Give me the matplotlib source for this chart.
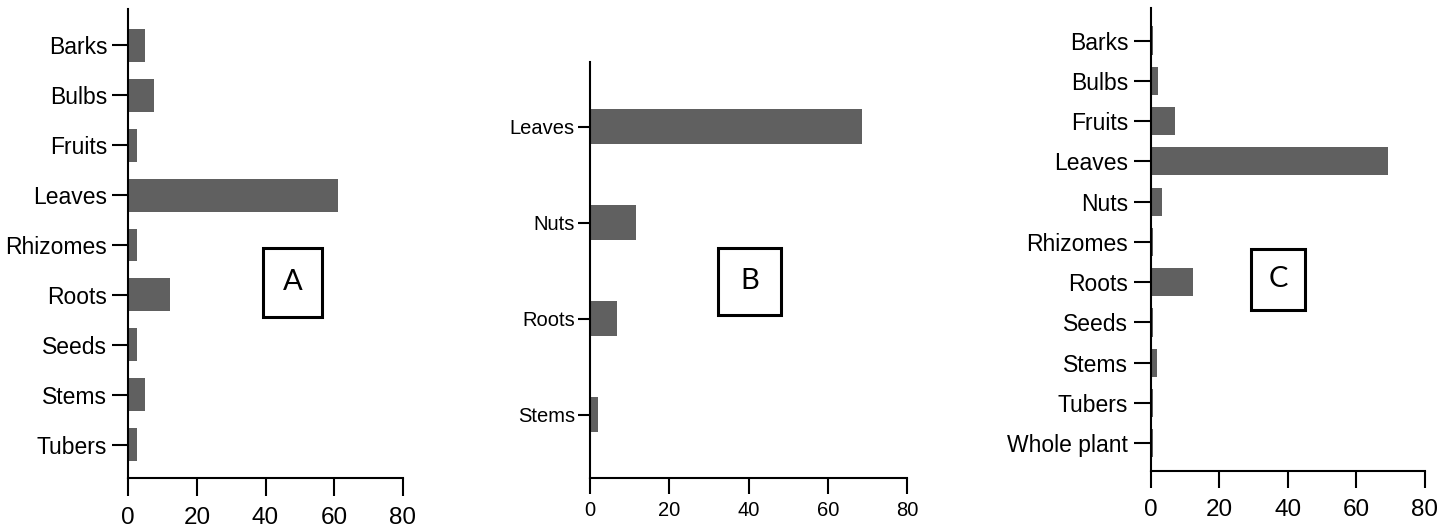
import matplotlib
matplotlib.use("Agg")
import matplotlib.pyplot as plt
from matplotlib import font_manager
from matplotlib.patches import Rectangle

# panel A
parts_a = ["Barks", "Bulbs", "Fruits", "Leaves", "Rhizomes", "Roots", "Seeds", "Stems", "Tubers"]
vals_a = [4.9, 7.5, 2.4, 61.0, 2.4, 12.1, 2.4, 4.9, 2.4]

# panel B
parts_b = ["Leaves", "Nuts", "Roots", "Stems"]
vals_b = [68.6, 11.5, 6.7, 1.9]

# panel C
parts_c = ["Barks", "Bulbs", "Fruits", "Leaves", "Nuts", "Rhizomes", "Roots",
           "Seeds", "Stems", "Tubers", "Whole plant"]
vals_c = [0.8, 2.2, 7.2, 69.1, 3.2, 0.8, 12.4, 0.8, 1.7, 0.8, 0.8]

xticks = [0, 20, 40, 60, 80]
bar_color = "#606060"

# panel B uses a narrow face in the original; fall back to regular if missing
installed = {f.name for f in font_manager.fontManager.ttflist}
if "Liberation Sans Narrow" in installed:
    narrow, b_size = "Liberation Sans Narrow", 16
else:
    narrow, b_size = "Liberation Sans", 14.5

plt.rcParams["font.family"] = ["Liberation Sans", "DejaVu Sans"]

fig = plt.figure(figsize=(14.54, 5.31), dpi=100)


def panel(rect, parts, vals, bar_h, ylim, label, box, fam, lab_size, num_size,
          ytick_len, xtick_len, ypad, xpad):
    ax = fig.add_axes(rect)
    pos = range(len(parts))
    ax.barh(pos, vals, height=bar_h, color=bar_color, zorder=2)
    ax.set_xlim(0, 80)
    ax.set_ylim(*ylim)
    ax.set_xticks(xticks)
    ax.set_yticks(list(pos))
    ax.set_yticklabels(parts, family=fam, fontsize=lab_size)
    ax.set_xticklabels([str(t) for t in xticks], family=fam, fontsize=num_size)
    for s in ["top", "right"]:
        ax.spines[s].set_visible(False)
    for s in ["left", "bottom"]:
        ax.spines[s].set_linewidth(1.5)
        ax.spines[s].set_zorder(3)
    ax.tick_params(axis="y", length=ytick_len, width=1.5, pad=ypad)
    ax.tick_params(axis="x", length=xtick_len, width=1.5, pad=xpad)
    x0, x1, y0, y1 = box
    ax.add_patch(Rectangle((x0, y0), x1 - x0, y1 - y0, transform=ax.transAxes,
                           fill=False, lw=2.2, ec="black", clip_on=False))
    ax.text((x0 + x1) / 2, (y0 + y1) / 2, label, transform=ax.transAxes,
            ha="center", va="center", fontsize=21, family="Lato")
    return ax


panel([0.08824, 0.10038, 0.18872, 0.88267], parts_a, vals_a, 0.66, (8.665, -0.73),
      "A", (0.491, 0.706, 0.343, 0.490), ["Liberation Sans"], 16.5, 17.5, 11.5, 13, 3.6, 8)

panel([0.40578, 0.09925, 0.21823, 0.78343], parts_b, vals_b, 0.365, (3.66, -0.67),
      "B", (0.403, 0.602, 0.393, 0.554), [narrow], b_size, b_size,
      8.5, 11.5, 2.4, 5)

panel([0.79140, 0.11356, 0.18865, 0.87081], parts_c, vals_c, 0.7, (10.68, -0.80),
      "C", (0.365, 0.564, 0.348, 0.480), ["Liberation Sans"], 16.5, 17.5, 12.5, 12.5, 3.6, 8)

fig.savefig("out.png", dpi=100)
